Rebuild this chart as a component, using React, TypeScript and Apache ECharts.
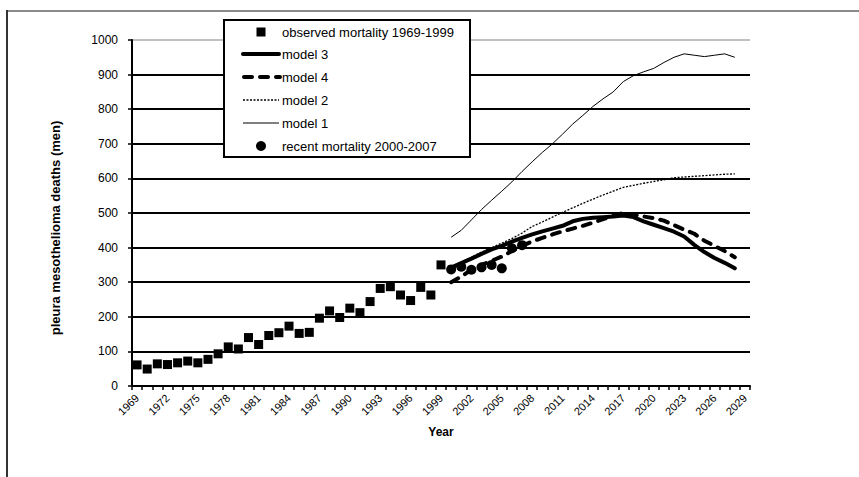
import React, { useEffect, useRef } from "react";
import * as echarts from "echarts";

const years: string[] = [];
for (let y = 1969; y <= 2029; y++) years.push(String(y));

const observedYears = ["1969","1970","1971","1972","1973","1974","1975","1976","1977","1978","1979","1980","1981","1982","1983","1984","1985","1986","1987","1988","1989","1990","1991","1992","1993","1994","1995","1996","1997","1998","1999"];
const observedValues = [61,49,64,62,67,72,67,77,93,113,107,140,120,146,154,173,152,155,196,217,198,225,212,244,282,287,263,247,285,263,350];

const recentYears = ["2000","2001","2002","2003","2004","2005","2006","2007"];
const recentValues = [337,345,336,343,350,340,398,407];

const modelYears = ["2000","2001","2002","2003","2004","2005","2006","2007","2008","2009","2010","2011","2012","2013","2014","2015","2016","2017","2018","2019","2020","2021","2022","2023","2024","2025","2026","2027","2028"];
const model1 = [430,450,480,510,537,563,590,620,648,675,700,728,757,782,808,830,850,880,897,908,918,935,950,960,956,952,956,960,950];
const model2 = [345,358,372,387,400,413,426,442,461,474,488,502,515,528,540,552,563,574,580,586,591,596,602,604,606,608,610,612,613];
const model3 = [342,355,368,382,395,405,417,428,438,447,455,463,476,483,486,488,490,493,488,476,466,456,446,432,408,387,370,356,340];
const model4 = [300,316,336,350,362,374,390,405,418,428,438,447,455,463,472,482,492,500,495,490,485,478,465,452,440,420,405,390,372];

const yTicks = [0,100,200,300,400,500,600,700,800,900,1000];

const legendLabels = ["observed mortality 1969-1999","model 3","model 4","model 2","model 1","recent mortality 2000-2007"];

const FONT = "Liberation Sans, Arial, sans-serif";

function pairs(xs: string[], vs: number[]) {
  return xs.map((x, i) => [x, vs[i]]);
}

export default function App() {
  const ref = useRef<HTMLDivElement>(null);
  useEffect(() => {
    if (!ref.current) return;
    const chart = echarts.init(ref.current, null, { renderer: "svg" });
    const gridColors = yTicks.map((t) => (t === 1000 ? "#c0c0c0" : "#000"));
    const rowsY = [32, 54, 77, 100, 123, 146];
    const legendX = 282;
    chart.setOption({
      animation: false,
      backgroundColor: "#fff",
      textStyle: { fontFamily: FONT },
      grid: { left: 132, right: 109, top: 40, bottom: 91, containLabel: false },
      xAxis: {
        type: "category",
        data: years,
        boundaryGap: true,
        axisLine: { lineStyle: { color: "#000", width: 2 } },
        axisTick: { show: true, interval: 0, length: 4, lineStyle: { color: "#000", width: 1.5 } },
        axisLabel: { interval: 2, rotate: 45, fontSize: 11, color: "#000", margin: 10, fontFamily: FONT },
        splitLine: { show: false },
      },
      yAxis: {
        type: "value",
        min: 0,
        max: 1000,
        interval: 100,
        axisLine: { show: true, lineStyle: { color: "#000", width: 2 } },
        axisTick: { show: true, length: 4, lineStyle: { color: "#000", width: 1.5 } },
        axisLabel: { fontSize: 12, color: "#000", margin: 14, fontFamily: FONT, formatter: (v: number) => String(v) },
        splitLine: { show: true, lineStyle: { color: gridColors, width: 2 } },
      },
      series: [
        {
          name: "observed mortality 1969-1999",
          type: "scatter",
          data: pairs(observedYears, observedValues),
          symbol: "rect",
          symbolSize: 9,
          itemStyle: { color: "#000", opacity: 1 },
          z: 3,
        },
        {
          name: "model 3",
          type: "line",
          data: pairs(modelYears, model3),
          symbol: "none",
          lineStyle: { color: "#000", width: 4, cap: "round", join: "round" },
          z: 2,
        },
        {
          name: "model 4",
          type: "line",
          data: pairs(modelYears, model4),
          symbol: "none",
          lineStyle: { color: "#000", width: 4, type: [8, 8], cap: "round", join: "round" },
          z: 2,
        },
        {
          name: "model 2",
          type: "line",
          data: pairs(modelYears, model2),
          symbol: "none",
          lineStyle: { color: "#000", width: 1.3, type: [2, 1.5] },
          z: 2,
        },
        {
          name: "model 1",
          type: "line",
          data: pairs(modelYears, model1),
          symbol: "none",
          lineStyle: { color: "#000", width: 1 },
          z: 2,
        },
        {
          name: "recent mortality 2000-2007",
          type: "scatter",
          data: pairs(recentYears, recentValues),
          symbol: "circle",
          symbolSize: 10,
          itemStyle: { color: "#000", opacity: 1 },
          z: 4,
        },
      ],
      graphic: [
        { type: "line", shape: { x1: 7, y1: 11, x2: 859, y2: 11 }, style: { stroke: "#8a8a8a", lineWidth: 2 }, z: 10 },
        { type: "line", shape: { x1: 7, y1: 10, x2: 7, y2: 477 }, style: { stroke: "#333", lineWidth: 2 }, z: 10 },
        {
          type: "text",
          x: 55,
          y: 228,
          rotation: Math.PI / 2,
          style: { text: "pleura mesothelioma deaths (men)", font: `bold 13px ${FONT}`, fill: "#000", align: "center", verticalAlign: "middle" },
          z: 10,
        },
        {
          type: "text",
          x: 441,
          y: 432,
          style: { text: "Year", font: `bold 12px ${FONT}`, fill: "#000", align: "center", verticalAlign: "middle" },
          z: 10,
        },
        { type: "rect", shape: { x: 224, y: 20, width: 246, height: 137 }, style: { fill: "#fff", stroke: "#000", lineWidth: 2 }, z: 20 },
        { type: "rect", shape: { x: 256.5, y: 27.5, width: 9, height: 9 }, style: { fill: "#000" }, z: 21 },
        { type: "line", shape: { x1: 243, y1: rowsY[1], x2: 279, y2: rowsY[1] }, style: { stroke: "#000", lineWidth: 4, lineCap: "round" }, z: 21 },
        { type: "line", shape: { x1: 244, y1: rowsY[2], x2: 280, y2: rowsY[2] }, style: { stroke: "#000", lineWidth: 4, lineCap: "round", lineDash: [8, 8] }, z: 21 },
        { type: "line", shape: { x1: 243, y1: rowsY[3], x2: 279, y2: rowsY[3] }, style: { stroke: "#000", lineWidth: 1.3, lineDash: [2, 1.5] }, z: 21 },
        { type: "line", shape: { x1: 243, y1: rowsY[4], x2: 279, y2: rowsY[4] }, style: { stroke: "#000", lineWidth: 1 }, z: 21 },
        { type: "circle", shape: { cx: 261, cy: rowsY[5], r: 5 }, style: { fill: "#000" }, z: 21 },
        ...legendLabels.map((t, i) => ({
          type: "text",
          x: legendX,
          y: rowsY[i],
          style: { text: t, font: `13px ${FONT}`, fill: "#000", align: "left", verticalAlign: "middle" },
          z: 21,
        })),
      ],
    });
    return () => chart.dispose();
  }, []);
  return <div ref={ref} style={{ position: "fixed", left: 0, top: 0, width: 859, height: 477 }} />;
}
